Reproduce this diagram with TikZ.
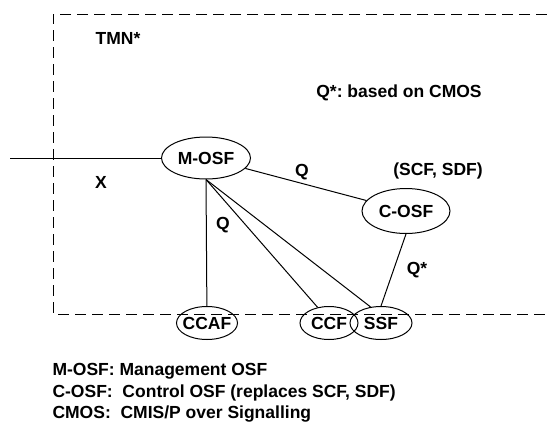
\documentclass[tikz,border=0pt]{standalone}
\usepackage{fontspec}
\setmainfont{Liberation Sans}
\usepackage{tikz}
\usetikzlibrary{positioning}
\usetikzlibrary{shapes}
\frenchspacing

\begin{document}
\begin{tikzpicture}[x=1pt,y=-1pt,on grid,line width=1pt,
   font=\fontsize{17.5}{21}\selectfont\bfseries,
   osf/.style={draw,ellipse,inner xsep=-4pt,inner ysep=0pt},
   lbl/.style={inner sep=0pt}]
   \useasboundingbox (0,0) rectangle (547,421);
   % TMN border
   \draw[dash pattern=on 11pt off 6pt] (547,14) -| (53,314) -- (547,314);
   \node[osf,minimum width=89pt,minimum height=42pt] (mosf) at (206,158) {M-OSF};
   \node[osf,minimum width=88pt,minimum height=45pt] (cosf) at (406,211) {C-OSF};
   \node[osf,minimum width=61pt,minimum height=33pt] (ccaf) at (207,323) {CCAF};
   \node[osf,minimum width=58pt,minimum height=33pt] (ccf) [right=122pt of ccaf] {CCF};
   \node[osf,minimum width=62pt,minimum height=33pt] (ssf) [right=52pt of ccf] {SSF};
   \coordinate (xin) at (10,158);
   % labels
   \node[lbl] (tmn) at (118,38) {TMN*};
   \node[lbl] (qcmos) at (399,93) {Q*: based on CMOS};
   \node[lbl] (scfsdf) at (438,171) {(SCF, SDF)};
   \node[lbl] (xlbl) at (101,182) {X};
   \node[lbl] (qa) at (302,172) {Q};
   \node[lbl] (qb) at (223,225) {Q};
   \node[lbl] (qstar) at (417,270) {Q*};
   % legend
   \node[lbl,anchor=base west] (leg1) at (52,375) {M-OSF: Management OSF};
   \node[lbl,anchor=base west] (leg2) at (52,397) {C-OSF:\ \ Control OSF (replaces SCF, SDF)};
   \node[lbl,anchor=base west] (leg3) at (52,418) {CMOS:\ \ CMIS/P over Signalling};
   \path
   (xin) edge (mosf)
   (mosf) edge (cosf)
   (mosf.south) edge (ccaf)
         edge (ccf.126)
         edge (ssf.123)
   (cosf.south) edge (ssf.north);
\end{tikzpicture}
\end{document}
